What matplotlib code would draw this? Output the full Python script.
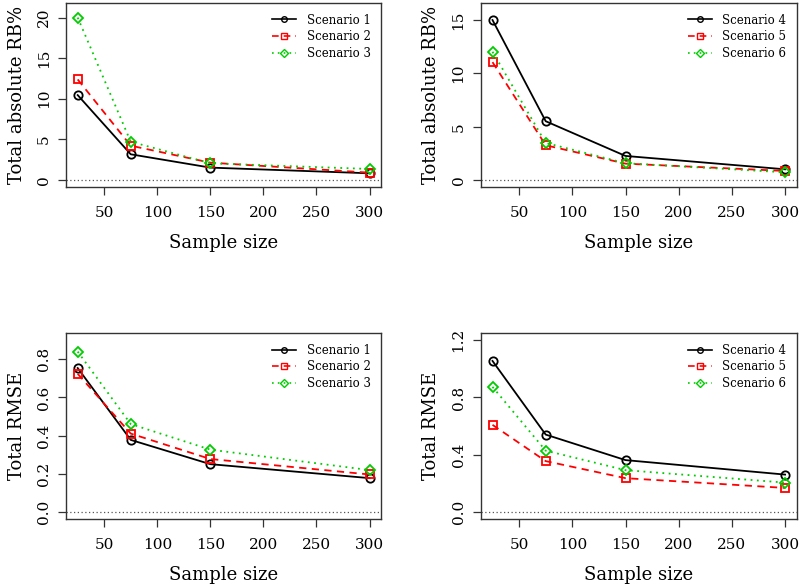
import matplotlib
matplotlib.use("Agg")
import matplotlib.pyplot as plt
from matplotlib.lines import Line2D

plt.rcParams['font.family'] = ['DejaVu Serif']

sample_sizes = [25, 75, 150, 300]

rb_s1 = [10.45, 3.16, 1.52, 0.82]
rb_s2 = [12.38, 4.22, 2.13, 0.90]
rb_s3 = [20.0, 4.71, 2.05, 1.35]
rb_s4 = [15.0, 5.53, 2.28, 1.03]
rb_s5 = [11.06, 3.28, 1.56, 0.875]
rb_s6 = [12.03, 3.50, 1.60, 0.75]

rmse_s1 = [0.754, 0.378, 0.251, 0.178]
rmse_s2 = [0.724, 0.411, 0.278, 0.197]
rmse_s3 = [0.840, 0.461, 0.327, 0.220]
rmse_s4 = [1.055, 0.541, 0.363, 0.262]
rmse_s5 = [0.609, 0.356, 0.237, 0.169]
rmse_s6 = [0.874, 0.429, 0.293, 0.206]

labels_a = ["Scenario 1", "Scenario 2", "Scenario 3"]
labels_b = ["Scenario 4", "Scenario 5", "Scenario 6"]
xticks = [50, 100, 150, 200, 250, 300]

GREEN = "#00CD00"
styles = [
    dict(color="black", ls="-", marker="o", ms=6.0),
    dict(color="#FF0000", ls=(0, (4, 3)), marker="s", ms=5.3),
    dict(color=GREEN, ls=(0, (1, 2.5)), marker="D", ms=5.5),
]

fig = plt.figure(figsize=(8, 5.86), dpi=100)

panels = [
    ([0.0825, 0.681, 0.394, 0.314], [rb_s1, rb_s2, rb_s3], labels_a, "Total absolute RB%", (-0.86, 21.8), [0, 5, 10, 15, 20], ["0", "5", "10", "15", "20"]),
    ([0.601, 0.681, 0.395, 0.314], [rb_s4, rb_s5, rb_s6], labels_b, "Total absolute RB%", (-0.62, 16.6), [0, 5, 10, 15], ["0", "5", "10", "15"]),
    ([0.0825, 0.1143, 0.394, 0.317], [rmse_s1, rmse_s2, rmse_s3], labels_a, "Total RMSE", (-0.036, 0.936), [0, 0.2, 0.4, 0.6, 0.8], ["0.0", "0.2", "0.4", "0.6", "0.8"]),
    ([0.601, 0.1143, 0.395, 0.317], [rmse_s4, rmse_s5, rmse_s6], labels_b, "Total RMSE", (-0.048, 1.248), [0, 0.4, 0.8, 1.2], ["0.0", "0.4", "0.8", "1.2"]),
]

for rect, series, labs, ylab, ylim, yt, ytl in panels:
    ax = fig.add_axes(rect)
    ax.axhline(0, color="#555555", ls=(0, (1, 2)), lw=0.9)
    for vals, st in zip(series, styles):
        ax.plot(sample_sizes, vals, color=st["color"], ls=st["ls"], lw=1.3,
                marker=st["marker"], ms=st["ms"], mfc="none", mec=st["color"], mew=1.3)
    ax.set_xlim(14, 311)
    ax.set_ylim(*ylim)
    ax.set_xticks(xticks)
    ax.set_xticklabels([str(t) for t in xticks])
    ax.set_yticks(yt)
    ax.set_yticklabels(ytl, rotation=90, va="center")
    ax.tick_params(direction="out", length=6, width=0.9, labelsize=11, color="#333333")
    ax.tick_params(axis="x", pad=8)
    ax.tick_params(axis="y", pad=5)
    for sp in ax.spines.values():
        sp.set_linewidth(1.0)
        sp.set_color("#333333")
    ax.set_xlabel("Sample size", fontsize=13, labelpad=10)
    ax.set_ylabel(ylab, fontsize=13, labelpad=8)
    handles = [Line2D([0], [0], color=st["color"], ls=st["ls"], lw=1.2, marker=st["marker"],
                      ms=4, mfc="none", mec=st["color"], mew=1.0) for st in styles]
    ax.legend(handles, labs, loc="upper right", frameon=False, fontsize=8.5,
              handlelength=2.0, labelspacing=0.3, borderaxespad=0.5, handletextpad=0.9)

fig.savefig("out.png", dpi=100)
